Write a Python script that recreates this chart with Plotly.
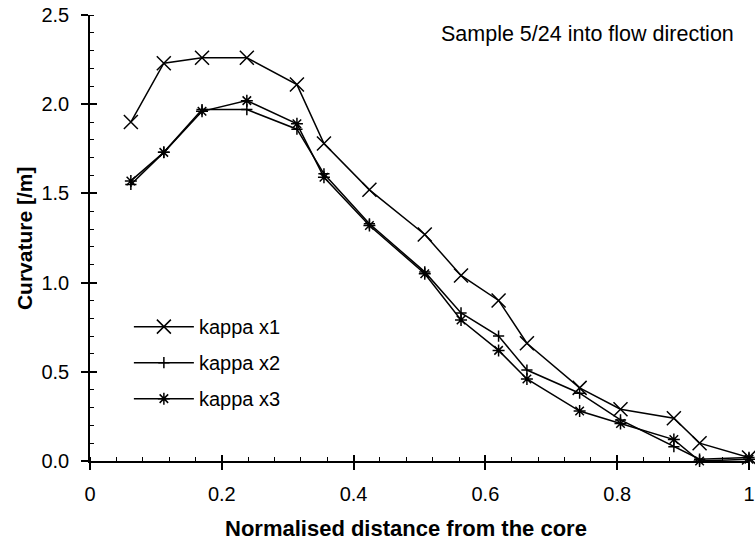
import plotly.graph_objects as go

# Normalised distance from the core
distance = [0.062, 0.112, 0.170, 0.238, 0.314, 0.355, 0.424, 0.508, 0.563,
            0.620, 0.663, 0.743, 0.805, 0.886, 0.925, 1.0]

kappa_x1 = [1.90, 2.23, 2.26, 2.26, 2.11, 1.78, 1.52, 1.27, 1.04,
            0.90, 0.66, 0.41, 0.29, 0.24, 0.10, 0.02]
kappa_x2 = [1.55, 1.73, 1.97, 1.97, 1.86, 1.61, 1.33, 1.06, 0.83,
            0.70, 0.51, 0.38, 0.23, 0.08, 0.01, 0.02]
kappa_x3 = [1.57, 1.73, 1.96, 2.02, 1.89, 1.59, 1.32, 1.05, 0.79,
            0.62, 0.46, 0.28, 0.21, 0.12, 0.00, 0.01]

series_names = ["kappa x1", "kappa x2", "kappa x3"]
x_ticks = [0, 0.2, 0.4, 0.6, 0.8, 1]
x_tick_labels = ["0", "0.2", "0.4", "0.6", "0.8", "1"]
y_ticks = [0, 0.5, 1.0, 1.5, 2.0, 2.5]
y_tick_labels = ["0.0", "0.5", "1.0", "1.5", "2.0", "2.5"]

FONT = "Liberation Sans, Arial, sans-serif"

symbols = ["x-thin-open", "cross-thin-open", "asterisk-open"]
sizes = [14, 8, 10]

fig = go.Figure()
for name, ys, sym, sz in zip(series_names, [kappa_x1, kappa_x2, kappa_x3], symbols, sizes):
    fig.add_trace(go.Scatter(
        x=distance, y=ys, name=name, mode="lines+markers",
        legendgroup=name,
        line=dict(color="black", width=1.5),
        marker=dict(symbol=sym, size=sz, color="black",
                    line=dict(color="black", width=1.5)),
        cliponaxis=False,
    ))

# empty trace so the overlay axes (inner half of the crossing major ticks) are drawn
fig.add_trace(go.Scatter(x=[], y=[], xaxis="x2", yaxis="y2",
                         showlegend=False, hoverinfo="skip"))

fig.update_layout(
    width=755, height=545,
    margin=dict(l=90, r=6, t=15, b=84),
    paper_bgcolor="white", plot_bgcolor="white",
    font=dict(family=FONT, size=20, color="black"),
    showlegend=True,
    legend=dict(x=0.059, y=0.345, xanchor="left", yanchor="top",
                bgcolor="rgba(0,0,0,0)", font=dict(size=20),
                traceorder="grouped", tracegroupgap=7, itemwidth=60),
    xaxis=dict(range=[0, 1], tickvals=x_ticks, ticktext=x_tick_labels,
               automargin=False,
               showgrid=False, zeroline=False, showline=True,
               linecolor="black", linewidth=1.5,
               ticks="outside", ticklen=7, tickwidth=1.5, tickcolor="black",
               ticklabelstandoff=7,
               minor=dict(dtick=0.04, ticks="inside", ticklen=4,
                          tickwidth=1, tickcolor="black"),
               tickfont=dict(size=20)),
    yaxis=dict(range=[0, 2.5], tickvals=y_ticks, ticktext=y_tick_labels,
               automargin=False,
               showgrid=False, zeroline=False, showline=True,
               linecolor="black", linewidth=1.5,
               ticks="outside", ticklen=7, tickwidth=1.5, tickcolor="black",
               ticklabelstandoff=8,
               minor=dict(dtick=0.1, ticks="inside", ticklen=4,
                          tickwidth=1, tickcolor="black"),
               tickfont=dict(size=20)),
    xaxis2=dict(overlaying="x", anchor="y2", side="bottom", range=[0, 1],
                automargin=False,
                tickvals=x_ticks, showticklabels=False, showgrid=False,
                zeroline=False, showline=False, ticks="inside", ticklen=6,
                tickwidth=1.5, tickcolor="black"),
    yaxis2=dict(overlaying="y", anchor="x2", side="left", range=[0, 2.5],
                automargin=False,
                tickvals=y_ticks, showticklabels=False, showgrid=False,
                zeroline=False, showline=False, ticks="inside", ticklen=7,
                tickwidth=1.5, tickcolor="black"),
    annotations=[
        dict(text="Sample 5/24 into flow direction", xref="paper", yref="paper",
             x=0.98, y=0.957, xanchor="right", yanchor="middle",
             showarrow=False, font=dict(size=21.5)),
        dict(text="<b>Normalised distance from the core</b>", xref="paper", yref="paper",
             x=0.48, y=-0.152, xanchor="center", yanchor="middle",
             showarrow=False, font=dict(size=22)),
        dict(text="<b>Curvature [/m]</b>", xref="paper", yref="paper",
             x=-0.1, y=0.5, xanchor="center", yanchor="middle", textangle=-90,
             showarrow=False, font=dict(size=21)),
    ],
)

# remove the browser's default 8px page margin so the 755x545 figure fills the window
fig.write_html("out.html",
               config={"displayModeBar": False},
               post_script="document.body.style.margin='0';document.body.style.overflow='hidden';")
